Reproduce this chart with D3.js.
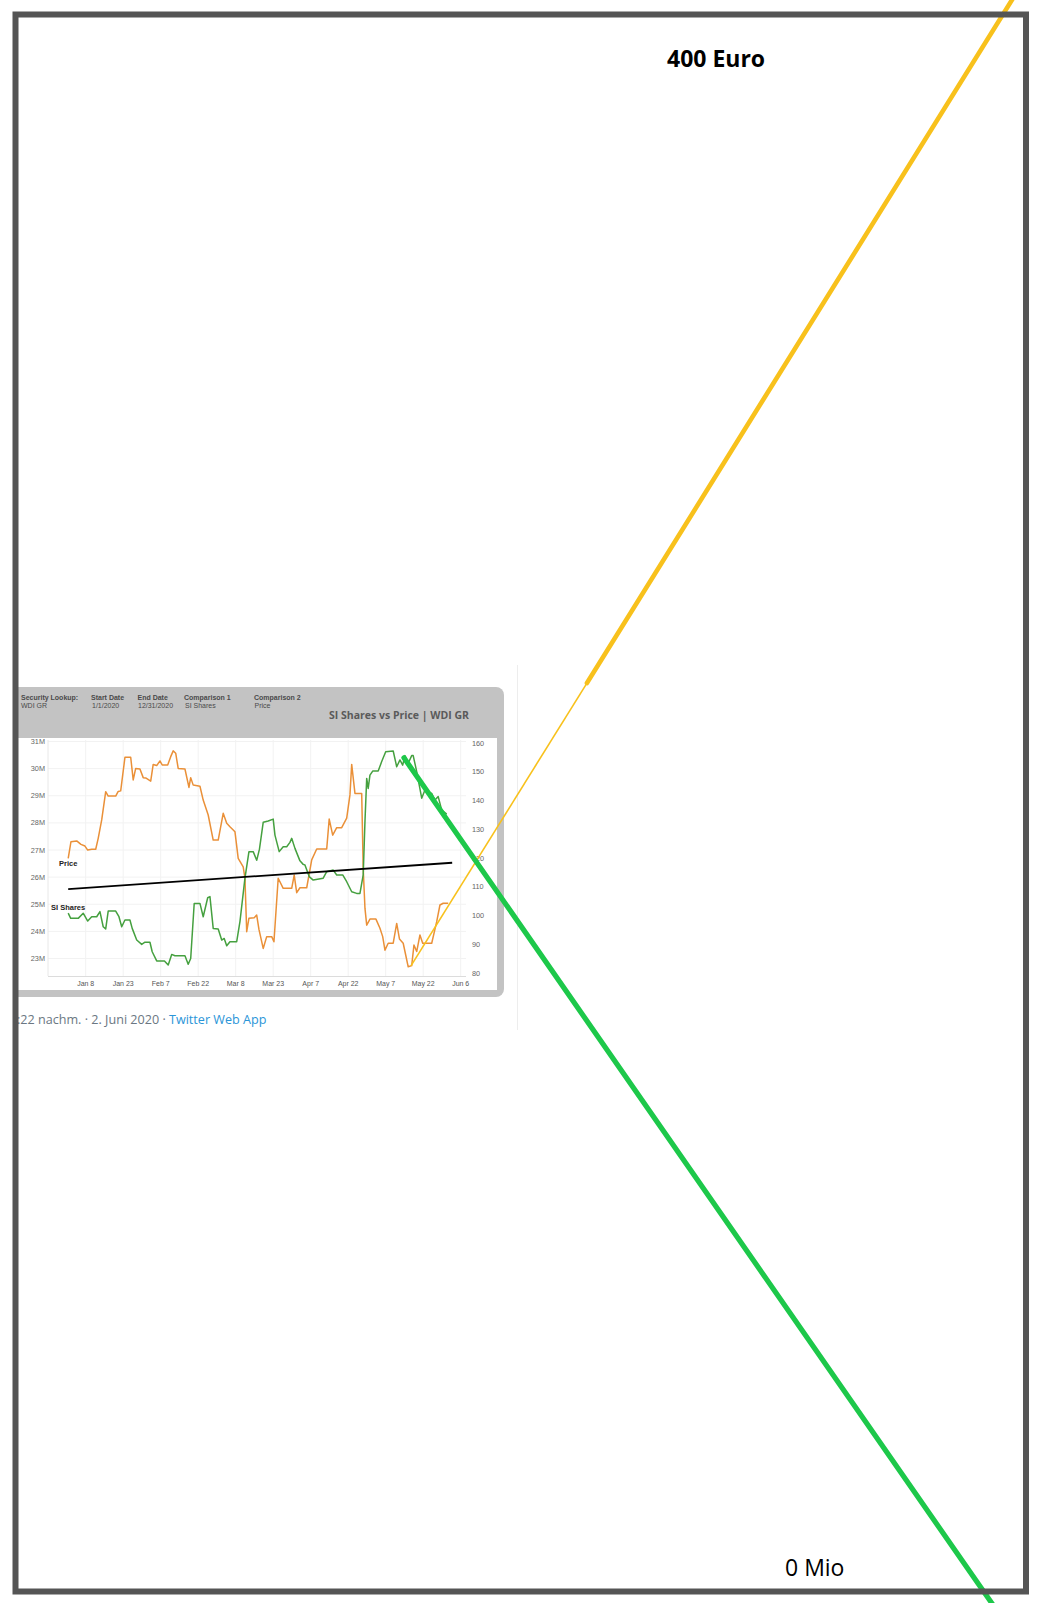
<!DOCTYPE html>
<html><head><meta charset="utf-8">
<script src="https://cdn.jsdelivr.net/npm/d3@7"></script>
<style>html,body{margin:0;padding:0;background:#fff;overflow:hidden}svg{display:block}</style>
</head><body><svg id="c" width="1043" height="1603"></svg>
<script>
// ---------- DATA ----------
const startDate = Date.UTC(2020, 0, 1); // day 0 = Jan 1, 2020
const tickDays = [7, 22, 37, 52, 67, 82, 97, 112, 127, 142, 157];
const tickLabels = ["Jan 8","Jan 23","Feb 7","Feb 22","Mar 8","Mar 23","Apr 7","Apr 22","May 7","May 22","Jun 6"];
const sharesTicks = [23, 24, 25, 26, 27, 28, 29, 30, 31];           // millions
const sharesTickLabels = ["23M","24M","25M","26M","27M","28M","29M","30M","31M"];
const priceTicks = [80, 90, 100, 110, 120, 130, 140, 150, 160];

const priceDays = [0,1.1,3.4,5.1,6.7,7.8,9.4,11,12,13.4,15,16,19,20,21,22.7,25,26,27,28.7,30,31,33,34,35.4,36.7,37.6,39.8,41,42,43,44,46.7,48.3,49,50,52.7,54,56,58,60,62,63.4,64.7,66.7,68,70,70.7,71.4,72.3,74.4,75.4,76.3,78,79.4,81.4,82.3,84,86,89.4,90.4,91.4,92.7,95.4,97.4,99.4,103.4,104.4,105.8,107.4,109.4,111.4,112.7,113.4,114.7,117.4,118,118.7,119.4,120.7,123.1,124.7,125.8,126.7,128,130,131.4,132.5,134,135,136,137.4,138.3,139.4,140.7,141.8,145.4,147.4,148.7,150,152];
const priceValues = [120.2,126,126.3,125.1,124.5,123.1,123.4,123.4,127.2,133.6,143.4,141.9,141.9,143.5,143.7,155.4,155.4,147.5,151.5,151.3,148.3,148.2,147.1,152.9,152.5,154.1,152.7,152.7,155.6,157.6,156.8,151.5,151.3,144.9,148.3,145.7,145.3,140.5,135.3,126.6,126.6,135.9,132.4,131.2,129.5,120.2,117.3,113.3,94.7,99.4,99.6,100.5,95.5,88.9,93,93,91.2,113.3,109.8,109.8,114.4,108.3,110,110,119.7,123.5,123.5,133.9,128.3,130.9,130.9,134.2,142.3,152.9,142.8,142.8,116.8,102.9,97,99.1,99.1,95.9,93,88.3,90.7,90.7,97.6,92.2,90.7,86.6,82.5,82.9,90.1,87.8,93.6,90.7,90.7,98.2,104,104.6,104.6];

const sharesDays = [0,1,4,6,7.8,9.4,11.4,12.7,14,15,16,19,20.3,21.4,22.7,24.7,25.6,27.4,29.4,30.7,32.7,33.6,35.4,38.5,40,41.4,42.7,46.7,48,49,50.4,52.7,54,55.8,56.7,58,60,61.4,62.4,63.4,64.7,67.4,68.7,70.7,72.3,74,75.4,76.5,78,80,82,82.7,84.4,86,87.4,88.7,89.4,90.7,92.7,94,94.7,96.4,98,102,103.4,106,107.4,109.8,111.4,113.4,115.4,116.7,118,118.7,119.4,120,120.7,121.8,124,125.4,127,130,131.4,132.7,133.8,134.7,136,137.4,138,139.4,141.4,142.7,145.4,146.7,148,149.4,151.4];
const sharesValues = [24.67,24.48,24.48,24.67,24.38,24.54,24.54,24.73,24.17,24.09,24.75,24.75,24.54,24.17,24.42,24.42,24.11,23.68,23.52,23.6,23.6,23.25,22.91,22.91,22.76,23.15,23.1,23.1,22.79,23.0,25.03,25.03,24.54,25.24,25.28,24.11,24.09,23.68,23.74,23.47,23.62,23.62,24.36,25.96,26.94,26.94,26.62,27.03,28.02,28.07,28.14,27.55,26.94,27.12,27.12,27.28,27.43,27.06,26.6,26.47,26.45,26.02,25.89,25.96,26.2,26.26,26.08,26.08,25.83,25.46,25.4,25.4,26.08,28.04,29.64,29.27,29.76,29.91,29.91,30.26,30.62,30.65,30.07,30.32,30.13,30.48,30.2,30.48,30.48,29.89,28.91,29.21,29.09,28.84,28.97,28.47,28.32];

// black reference line (in shares units)
const refDays = [0, 153.6];
const refValues = [25.56, 26.53];

// extrapolated trend lines
const priceTrendDays = [137.1, 207.5, 380];
const priceTrendValues = [82.8, 181.2, 422.3];
const sharesTrendDays = [134.3, 372.7];
const sharesTrendValues = [30.4, -1.2];

const priceTargetLabel = "400 Euro";
const priceTargetValue = 400;
const sharesTargetLabel = "0 Mio";
const sharesTargetValue = 0;

// ---------- DRAW ----------
const svg = d3.select("#c");
const toDate = d => new Date(startDate + d * 86400000);
const x = d3.scaleUtc().domain([toDate(0), toDate(157)]).range([68.2, 460.7]);
const yS = d3.scaleLinear().domain([23, 31]).range([958.5, 741.5]);
const yP = d3.scaleLinear().domain([80, 160]).range([974, 744]);

svg.append("defs").append("clipPath").attr("id", "cardClip")
  .append("rect").attr("x", 16).attr("y", 0).attr("width", 1030).attr("height", 1603);

// tweet separator
svg.append("line").attr("x1", 517.5).attr("x2", 517.5).attr("y1", 665).attr("y2", 1030)
  .attr("stroke", "#ededed").attr("stroke-width", 1);

// card
const card = svg.append("g").attr("clip-path", "url(#cardClip)");
card.append("rect").attr("x", -10).attr("y", 687).attr("width", 514).attr("height", 310).attr("rx", 8)
  .attr("fill", "#c3c3c3");
card.append("rect").attr("x", 0).attr("y", 738).attr("width", 497).attr("height", 252).attr("fill", "#fff");

// header text
const hdrFont = "Arial, Liberation Sans, sans-serif";
const hdr = [["Security Lookup:", "WDI GR", 21, 21], ["Start Date", "1/1/2020", 91, 92], ["End Date", "12/31/2020", 137.5, 138],
             ["Comparison 1", "SI Shares", 184, 185], ["Comparison 2", "Price", 254, 254.5]];
hdr.forEach(h => {
  card.append("text").attr("x", h[2]).attr("y", 699.5).text(h[0])
    .attr("font-family", hdrFont).attr("font-size", 7).attr("font-weight", "bold").attr("fill", "#4a4a4a");
  card.append("text").attr("x", h[3]).attr("y", 707.5).text(h[1])
    .attr("font-family", hdrFont).attr("font-size", 7).attr("fill", "#4a4a4a");
});
card.append("text").attr("x", 399).attr("y", 719).attr("text-anchor", "middle").text("SI Shares vs Price | WDI GR")
  .attr("font-family", "Open Sans, sans-serif").attr("font-size", 10.5).attr("font-weight", "bold").attr("fill", "#5a5a5a");

// grid
const plotL = 48, plotR = 466;
const grid = card.append("g").attr("stroke", "#f2f2f2").attr("stroke-width", 1);
grid.selectAll(".h").data(sharesTicks).join("line")
  .attr("x1", plotL).attr("x2", plotR).attr("y1", d => yS(d)).attr("y2", d => yS(d));
grid.selectAll(".v").data(tickDays).join("line")
  .attr("x1", d => x(toDate(d))).attr("x2", d => x(toDate(d))).attr("y1", 740).attr("y2", 976);
grid.append("line").attr("x1", plotL).attr("x2", plotL).attr("y1", 740).attr("y2", 976).attr("stroke", "#e8e8e8");
grid.append("line").attr("x1", plotL).attr("x2", plotR).attr("y1", 976.5).attr("y2", 976.5).attr("stroke", "#dcdcdc");

// axes labels
const axFont = "Arial, Liberation Sans, sans-serif";
card.selectAll(".yl").data(sharesTicks).join("text")
  .attr("x", 45).attr("y", d => yS(d) + 2.5).attr("text-anchor", "end")
  .text((d, i) => sharesTickLabels[i]).attr("font-family", axFont).attr("font-size", 7.3).attr("fill", "#666");
card.selectAll(".yr").data(priceTicks).join("text")
  .attr("x", 472).attr("y", d => yP(d) + 1.5)
  .text(d => d).attr("font-family", axFont).attr("font-size", 7.3).attr("fill", "#666");
card.selectAll(".xl").data(tickDays).join("text")
  .attr("x", d => x(toDate(d))).attr("y", 985.5).attr("text-anchor", "middle")
  .text((d, i) => tickLabels[i]).attr("font-family", axFont).attr("font-size", 7).attr("fill", "#555");

// series
const lineP = d3.line().x(d => x(toDate(d[0]))).y(d => yP(d[1]));
const lineS = d3.line().x(d => x(toDate(d[0]))).y(d => yS(d[1]));
card.append("path").datum(priceDays.map((d, i) => [d, priceValues[i]])).attr("d", lineP)
  .attr("fill", "none").attr("stroke", "#ea9038").attr("stroke-width", 1.5).attr("stroke-linejoin", "round");
card.append("path").datum(sharesDays.map((d, i) => [d, sharesValues[i]])).attr("d", lineS)
  .attr("fill", "none").attr("stroke", "#45a03f").attr("stroke-width", 1.5).attr("stroke-linejoin", "round");
card.append("path").datum(refDays.map((d, i) => [d, refValues[i]])).attr("d", lineS)
  .attr("fill", "none").attr("stroke", "#000").attr("stroke-width", 1.8);

card.append("text").attr("x", 59).attr("y", 866).text("Price")
  .attr("font-family", axFont).attr("font-size", 7.5).attr("font-weight", "bold").attr("fill", "#222");
card.append("text").attr("x", 51).attr("y", 910).text("SI Shares")
  .attr("font-family", axFont).attr("font-size", 7.5).attr("font-weight", "bold").attr("fill", "#222");

// timestamp line
const ts = svg.append("text").attr("x", 17).attr("y", 1023.5)
  .attr("font-family", "Open Sans, sans-serif").attr("font-size", 12.6).attr("fill", "#6b7782");
ts.append("tspan").text(":22 nachm. · 2. Juni 2020 · ");
ts.append("tspan").attr("fill", "#2a95d8").text("Twitter Web App");

// trend lines
const pt = priceTrendDays.map((d, i) => [d, priceTrendValues[i]]);
svg.append("path").datum(pt.slice(0, 2)).attr("d", lineP)
  .attr("fill", "none").attr("stroke", "#f8c11c").attr("stroke-width", 1.6);
svg.append("path").datum(pt.slice(1)).attr("d", lineP)
  .attr("fill", "none").attr("stroke", "#f8c11c").attr("stroke-width", 4.6).attr("stroke-linecap", "round");
svg.append("path").datum(sharesTrendDays.map((d, i) => [d, sharesTrendValues[i]])).attr("d", lineS)
  .attr("fill", "none").attr("stroke", "#1dc84a").attr("stroke-width", 5.2).attr("stroke-linecap", "round");

// border
svg.append("rect").attr("x", 15.5).attr("y", 14.5).attr("width", 1010.5).attr("height", 1577)
  .attr("fill", "none").attr("stroke", "#555").attr("stroke-width", 6);

// target labels
svg.append("text").attr("x", 667).attr("y", yP(priceTargetValue) + 12.5).text(priceTargetLabel)
  .attr("font-family", "Open Sans, sans-serif").attr("font-size", 23).attr("font-weight", "bold").attr("fill", "#000");
svg.append("text").attr("x", 785).attr("y", yS(sharesTargetValue) - 6).text(sharesTargetLabel)
  .attr("font-family", "Open Sans, sans-serif").attr("font-size", 23).attr("fill", "#000");
</script></body></html>
